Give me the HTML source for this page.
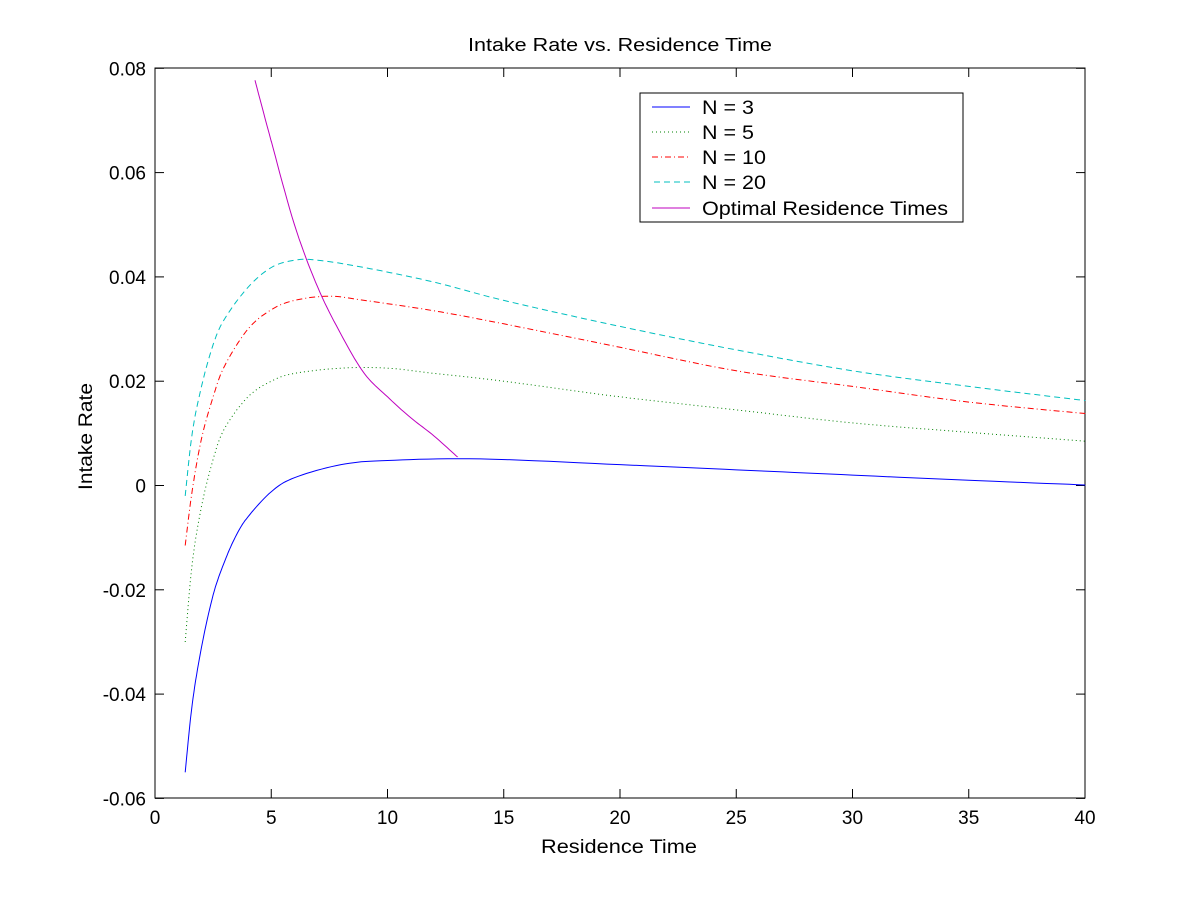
<!DOCTYPE html>
<html><head><style>body{margin:0;background:#fff}svg{display:block}text{font-family:"Liberation Sans",Arial,sans-serif;fill:#000}</style></head>
<body>
<svg id="s" width="1200" height="900" xmlns="http://www.w3.org/2000/svg">
<rect width="1200" height="900" fill="#fff"/>
<rect x="155" y="68" width="930" height="730" fill="none" stroke="#000" stroke-width="1"/>
<g id="ax"></g>
<g id="curves" fill="none" stroke-width="1"></g>
<text x="468" y="51" font-size="18" textLength="304" lengthAdjust="spacingAndGlyphs">Intake Rate vs. Residence Time</text>
<text x="541" y="853" font-size="19" textLength="156" lengthAdjust="spacingAndGlyphs">Residence Time</text>
<text x="92" y="490" font-size="19" textLength="107" lengthAdjust="spacingAndGlyphs" transform="rotate(-90 92 490)">Intake Rate</text>
<rect x="640" y="93" width="323" height="129" fill="#fff" stroke="#000"/>
<line x1="652" y1="107" x2="690" y2="107" stroke="#00f"/>
<line x1="652" y1="132" x2="690" y2="132" stroke="#008000" stroke-dasharray="1,3"/>
<line x1="652" y1="157" x2="690" y2="157" stroke="#f00" stroke-dasharray="6,3,1,3"/>
<line x1="654" y1="182" x2="690" y2="182" stroke="#00bfbf" stroke-dasharray="6,4"/>
<line x1="652" y1="208" x2="690" y2="208" stroke="#bf00bf"/>
<text x="702" y="114" font-size="19" textLength="52" lengthAdjust="spacingAndGlyphs">N = 3</text>
<text x="702" y="139" font-size="19" textLength="52" lengthAdjust="spacingAndGlyphs">N = 5</text>
<text x="702" y="164" font-size="19" textLength="64" lengthAdjust="spacingAndGlyphs">N = 10</text>
<text x="702" y="189" font-size="19" textLength="64" lengthAdjust="spacingAndGlyphs">N = 20</text>
<text x="702" y="215" font-size="19" textLength="246" lengthAdjust="spacingAndGlyphs">Optimal Residence Times</text>
</svg>
<script>
var X=function(x){return 155+x*23.25},Y=function(y){return 485.5-y*5215};
var ax=document.getElementById('ax'),h='';
for(var i=0;i<=8;i++){var x=X(i*5);h+='<line x1="'+x+'" y1="798" x2="'+x+'" y2="789" stroke="#000"/><line x1="'+x+'" y1="68" x2="'+x+'" y2="77" stroke="#000"/><text x="'+x+'" y="824" font-size="19" text-anchor="middle">'+(i*5)+'</text>';}
var yl=['-0.06','-0.04','-0.02','0','0.02','0.04','0.06','0.08'];
for(var i=0;i<8;i++){var v=-0.06+i*0.02,y=Y(v);h+='<line x1="155" y1="'+y+'" x2="164" y2="'+y+'" stroke="#000"/><line x1="1085" y1="'+y+'" x2="1076" y2="'+y+'" stroke="#000"/><text x="146" y="'+(y+7)+'" font-size="19" text-anchor="end">'+yl[i]+'</text>';}
ax.innerHTML=h;
function cr(p){var o=[];for(var i=0;i<p.length-1;i++){var p0=p[Math.max(0,i-1)],p1=p[i],p2=p[i+1],p3=p[Math.min(p.length-1,i+2)];for(var t=0;t<1;t+=0.1){var t2=t*t,t3=t2*t;var f=function(a,b,c,d){return 0.5*(2*b+(-a+c)*t+(2*a-5*b+4*c-d)*t2+(-a+3*b-3*c+d)*t3)};o.push(X(f(p0[0],p1[0],p2[0],p3[0])).toFixed(1)+','+Y(f(p0[1],p1[1],p2[1],p3[1])).toFixed(1));}}var l=p[p.length-1];o.push(X(l[0])+','+Y(l[1]));return o.join(' ');}
var S=[
[[[1.3,-0.055],[1.6,-0.042],[2,-0.031],[2.5,-0.021],[3,-0.0145],[3.5,-0.0095],[4,-0.006],[5,-0.0012],[6,0.0015],[8,0.004],[10,0.0048],[14,0.0051],[20,0.004],[25,0.003],[30,0.002],[35,0.001],[40,0.0001]],'#00f',''],
[[[1.3,-0.03],[1.6,-0.015],[2,-0.004],[2.5,0.005],[3,0.011],[4,0.017],[5,0.020],[6,0.0215],[8,0.0225],[10,0.0225],[12,0.0215],[15,0.02],[20,0.017],[25,0.0145],[30,0.012],[35,0.0102],[40,0.0085]],'#008000','1,3'],
[[[1.3,-0.0115],[1.6,-0.001],[2,0.009],[2.5,0.017],[3,0.023],[4,0.030],[5,0.0337],[6,0.0355],[7.5,0.0363],[9,0.0355],[12,0.0335],[15,0.031],[20,0.0265],[25,0.022],[30,0.019],[35,0.016],[40,0.0138]],'#f00','6,3,1,3'],
[[[1.3,-0.002],[1.6,0.01],[2,0.019],[2.5,0.027],[3,0.032],[4,0.038],[5,0.0418],[6,0.0432],[7,0.0432],[9,0.0418],[12,0.039],[15,0.0355],[20,0.0305],[25,0.026],[30,0.022],[35,0.019],[40,0.0163]],'#00bfbf','6,4'],
[[[4.3,0.0777],[5,0.066],[6,0.05],[7,0.038],[8,0.029],[9,0.0215],[10,0.017],[11,0.013],[12,0.0095],[13,0.0055]],'#bf00bf','']];
var g='';S.forEach(function(s){g+='<polyline points="'+cr(s[0])+'" stroke="'+s[1]+'"'+(s[2]?' stroke-dasharray="'+s[2]+'"':'')+'/>';});
document.getElementById('curves').innerHTML=g;
</script>
</body></html>
